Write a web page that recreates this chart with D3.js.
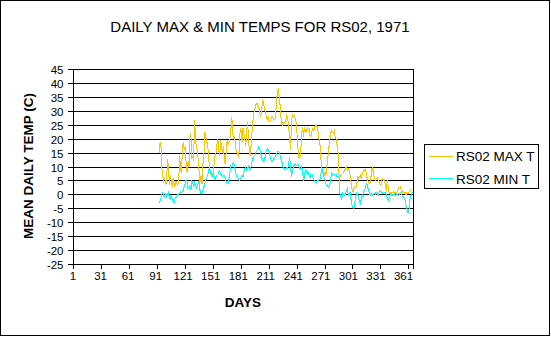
<!DOCTYPE html>
<html><head><meta charset="utf-8">
<script src="https://cdn.jsdelivr.net/npm/d3@7/dist/d3.min.js"></script>
<style>
html,body{margin:0;padding:0;background:#fff;}
svg{display:block;font-family:"Liberation Sans",Arial,sans-serif;}
</style>
</head><body>
<svg id="chart" width="551" height="337"></svg>
<script>
// ---- data ----
const title = "DAILY MAX & MIN TEMPS FOR RS02, 1971";
const xTitle = "DAYS";
const yTitle = "MEAN DAILY TEMP (C)";
const seriesNames = ["RS02 MAX T", "RS02 MIN T"];
const xTickLabels = [1, 31, 61, 91, 121, 151, 181, 211, 241, 271, 301, 331, 361];
const yTickValues = [45, 40, 35, 30, 25, 20, 15, 10, 5, 0, -5, -10, -15, -20, -25];
const firstDay = 93;
const lastDay = 365;
const days = d3.range(firstDay, lastDay + 1);
const maxT = [
15,19,17,9,6.5,5,6,3.5,5,13,10,3.5,7,5,3,6,4,3,5,4,3.5,5,14,9,8,17,19,16,17.5,11,
8,12,10,20,22,13,14,12,27,20,17,16,12,8,4.5,7,4,11,14,22.5,21,19,18.5,14,10,7,8,6,7.5,11,
14,15,18,20,16,14,19.5,17,15,17.5,13,11,16,19.5,18,19,20,23.5,28,22,20,21,17,16,14.5,13.5,16,24,23,19,
24,22,20,17.5,23,26,20,15,14,20,24,28,30,31,32.5,33,32,31.5,29,28,30,34.5,33,31,29.5,28.5,27,28,26.5,
26.1,27.3,28.2,27.7,26.7,27,28,34,37,37.8,35,31.5,26.7,25,26,25.5,26,27,28.5,27.7,24.3,20.7,16.2,25.5,29.1,28,28.5,27.3,26,22,
16.5,13.5,13,16,22,24.3,20.7,24.3,23,22.5,24.3,23,23.7,21,21.3,23,23.7,23,24.3,25,24.6,24.3,21.3,19,17.1,11.2,9.4,8.2,7,8.2,
7,10,13,16.5,19,21.7,23.1,22.9,22.2,22.9,20.7,19.8,17.7,15.3,7.6,6.4,7,7.3,7.8,8.2,8.5,9.7,10,8.8,9.4,8.8,7,4.6,2.2,1,
2.2,3,2.5,3.4,6.4,5.8,6.6,7,5.8,7.6,8.2,8.8,9.4,8.2,6.4,5.2,4.6,4,4.9,8.8,10.2,7.6,6.4,5.2,5.8,6.1,5.2,4.9,4,3.2,
5.4,5.8,5.2,5.6,2.8,1.3,5.4,2.2,0.6,0.8,0.4,1,0.6,1.1,0.6,0.8,0.6,1.6,2.5,2.2,2.8,1.8,0.8,1.3,0.4,1,-0.2,0.8,0.4,1,
1.3,1.6,2,2.2
];
const minT = [
-3,-2,-1.2,0.4,1,-0.5,-0.8,0.8,-0.5,0.2,1,-1,-1.4,-0.2,-1.2,-2.5,-3,-1.5,-1,-0.6,0,0.4,0.3,1,0.8,1.4,1.6,3.5,4,5.8,
4.5,2.2,2.5,3.5,1.6,5,4.5,2.8,4.5,3.5,2.2,3.5,4,5,1,0.4,0.8,1.6,2.8,4,5.2,6.3,6.5,8.7,10,8.5,7,6.8,8.2,6.5,
5.5,6.5,7,7.4,8.4,8.7,7.5,7,6.6,6.8,7,5.5,4.7,4.5,4.2,6,8,10.5,10,11.3,11.7,10.2,8.2,7,6.2,5.8,5,5.5,6.5,7.2,
6.5,8,9.4,10,8.5,9.8,10.5,8.8,9.4,10.5,12.5,13.2,14,14.3,15.5,15.8,16.5,17.2,16.8,14.5,13.5,12.4,12,12.4,14,16,16.5,16.2,15.5,13.8,
12.5,12,12.3,12.8,13.5,13.8,14.8,15.5,15.5,
15.2,14,12.5,11.5,10,9.5,9,9.2,9.8,9.5,11.5,13.5,11,6.5,8,10,10.7,11.2,10.5,10.8,11,10,9.5,9.2,10,8.5,5,6.5,9.4,8.5,
7.8,8,7,6,7.4,7.5,6,5.5,4.7,4.3,4.5,5,5.2,5.5,5.8,8.5,9.4,7.6,6.5,5.5,4,3.4,3,2.8,3.5,5,8,7.5,7,7.2,
7.5,7.3,6.5,6.8,6.5,0.5,-0.5,-1.4,0.6,0.2,-0.2,0.5,1.5,2.2,0.3,-0.3,1,-1.5,-3.5,-4.5,-5,-2.5,-1,0.8,0.5,-0.8,-2.5,-3.2,-1.5,-0.3,
0.5,1.5,2.2,3.5,4.2,2.5,1.5,0.2,-0.2,0.5,-0.2,0.3,0.4,0.2,1,0.8,-0.2,0.5,1.5,1.2,1,0.4,0.3,1,1,-0.5,-1,-2,-0.8,-0.4,
0.2,0.4,-0.2,0.1,0.5,0.4,0.3,0,-0.3,0.3,0.8,0.5,-0.3,-0.6,-1.2,-2,-3.5,-5.5,-6.5,-6,-2,-0.5,0.2,1
];
const colors = ["#FFC400", "#00FFFF"];

// ---- layout ----
const svg = d3.select("#chart");
const L = 73, R = 413, T = 69.5, B = 264.5;

svg.append("rect").attr("x",0.5).attr("y",0.5).attr("width",549).attr("height",335)
  .attr("fill","#fff").attr("stroke","#000");

const x = d3.scaleLinear().domain([0.5, 365.5]).range([L, R]);
const xLab = d3.scaleLinear().domain([1, 361]).range([72.5, 403]);
const y = d3.scaleLinear().domain([-25, 45]).range([B, T]);
const yc = v => Math.round(y(v) - 0.5) + 0.5;

// plot area
svg.append("rect").attr("x",L+0.5).attr("y",T).attr("width",R-L).attr("height",B-T)
  .attr("fill","#fff");

// gridlines
svg.append("g").selectAll("line").data(yTickValues).join("line")
  .attr("x1",L).attr("x2",R+0.5).attr("y1",d=>yc(d)).attr("y2",d=>yc(d))
  .attr("stroke","#000").attr("shape-rendering","crispEdges");
// right border
svg.append("line").attr("x1",R+0.5).attr("x2",R+0.5).attr("y1",yc(45)).attr("y2",yc(-25))
  .attr("stroke","#000").attr("shape-rendering","crispEdges");

// y axis
const yAxis = d3.axisLeft(y).tickValues(yTickValues).tickSize(6).tickPadding(4)
  .tickFormat(d => String(d));
const gy = svg.append("g").attr("transform",`translate(${L+0.5},0)`).call(yAxis);
gy.select(".domain").attr("stroke","#000").attr("d",`M0,${yc(45)}V${yc(-25)}`);
gy.selectAll(".tick").attr("transform",d=>`translate(0,${yc(d)})`);
gy.selectAll(".tick line").attr("stroke","#000").attr("shape-rendering","crispEdges");
gy.selectAll(".tick text").attr("font-size","11.5px").attr("fill","#000")
  .attr("font-family","Liberation Sans, Arial, sans-serif").attr("dy","0.36em");
gy.selectAll("path,line").attr("shape-rendering","crispEdges");

// x axis: tick marks at category boundaries
const xAxisTicks = d3.axisBottom(x).tickValues(xTickLabels.map(d => d - 0.5).concat([365.5]))
  .tickSize(4).tickFormat("");
const gx = svg.append("g").attr("transform",`translate(0,${yc(-25)})`).call(xAxisTicks);
gx.selectAll("path,line").attr("stroke","#000").attr("shape-rendering","crispEdges");
gx.select(".domain").attr("d",`M${L},0H${R+0.5}`);

// x axis labels
const xAxisLabels = d3.axisBottom(xLab).tickValues(xTickLabels).tickSize(0).tickPadding(0)
  .tickFormat(d => String(d));
const gxl = svg.append("g").attr("transform",`translate(0,272)`).call(xAxisLabels);
gxl.select(".domain").remove();
gxl.selectAll(".tick text").attr("font-size","11.5px").attr("fill","#000")
  .attr("font-family","Liberation Sans, Arial, sans-serif").attr("dy","0.71em");

// series lines
const series = [maxT, minT];
const line = d3.line().x((d,i) => x(days[i])).y(d => y(d));
series.forEach((s, k) => {
  svg.append("path").datum(s).attr("d", line).attr("fill","none")
    .attr("stroke", colors[k]).attr("stroke-width",1).attr("shape-rendering","crispEdges");
});

// titles
svg.append("text").attr("x",260).attr("y",32).attr("text-anchor","middle")
  .attr("font-size","15px").attr("fill","#000").text(title);
svg.append("text").attr("x",243).attr("y",306.5).attr("text-anchor","middle")
  .attr("font-size","13.5px").attr("font-weight","bold").attr("fill","#000").text(xTitle);
svg.append("text").attr("transform","translate(33,166) rotate(-90)").attr("text-anchor","middle")
  .attr("font-size","13.5px").attr("font-weight","bold").attr("fill","#000").text(yTitle);

// legend
const lg = svg.append("g");
lg.append("rect").attr("x",424.5).attr("y",144.5).attr("width",114).attr("height",44)
  .attr("fill","#fff").attr("stroke","#000").attr("shape-rendering","crispEdges");
seriesNames.forEach((n, k) => {
  const ly = 156 + k * 22.5;
  lg.append("line").attr("x1",429).attr("x2",453).attr("y1",ly).attr("y2",ly)
    .attr("stroke",colors[k]).attr("shape-rendering","crispEdges");
  lg.append("text").attr("x",456).attr("y",ly+5).attr("font-size","13.5px").attr("fill","#000").text(n);
});
</script>
</body></html>
